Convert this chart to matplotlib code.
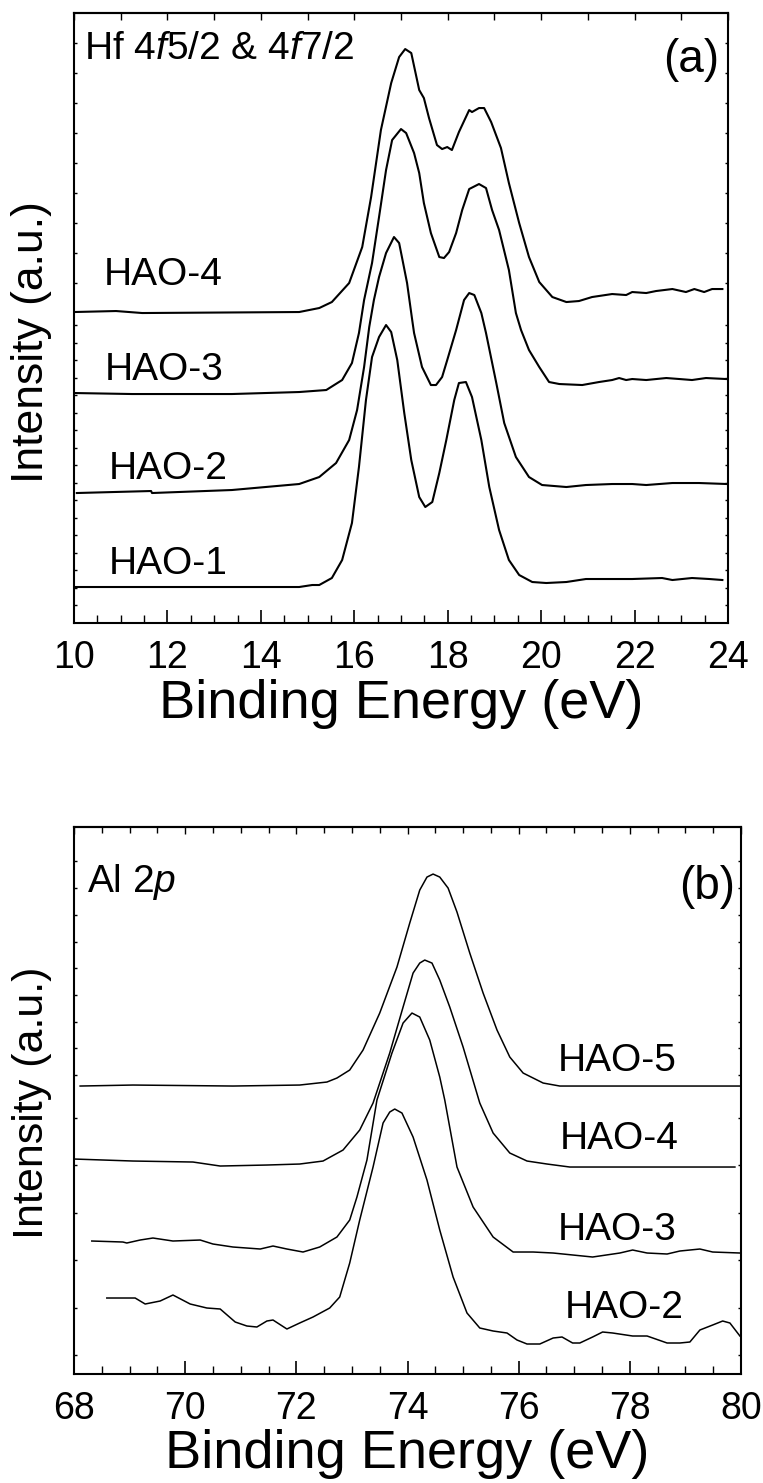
import numpy as np
import matplotlib
matplotlib.use("Agg")
import matplotlib.pyplot as plt
from matplotlib.ticker import MultipleLocator, FixedLocator, NullFormatter

plt.rcParams['font.family'] = ['Liberation Sans', 'DejaVu Sans']
plt.rcParams['mathtext.fontset'] = 'custom'
plt.rcParams['mathtext.rm'] = 'Liberation Sans'
plt.rcParams['mathtext.it'] = 'Liberation Sans:italic'

# ---- panel (a): Hf 4f, binding energy (eV) vs intensity (a.u., stacked)
a1_x = [10.00, 13.38, 14.82, 15.10, 15.25, 15.52, 15.74, 15.95, 16.10, 16.25, 16.38, 16.53, 16.68, 16.79,
        16.92, 17.07, 17.22, 17.39, 17.52, 17.67, 17.82, 17.97, 18.14, 18.24, 18.39, 18.52, 18.72, 18.89,
        19.10, 19.31, 19.53, 19.81, 20.11, 20.54, 20.96, 21.52, 21.95, 22.59, 22.81, 23.23, 23.60, 23.88]
a1_y = [3.6, 3.6, 3.6, 3.8, 3.8, 4.5, 6.3, 10.0, 15.6, 22.3, 26.6, 28.6, 29.8, 29.1,
        26.3, 21.0, 16.3, 12.6, 11.6, 12.1, 15.0, 18.3, 22.3, 24.0, 24.1, 22.6, 18.3, 13.6,
        9.3, 6.3, 4.8, 4.1, 4.0, 4.1, 4.4, 4.4, 4.4, 4.5, 4.3, 4.5, 4.4, 4.3]

a2_x = [10.06, 11.65, 11.67, 13.38, 14.82, 15.25, 15.61, 15.89, 16.06, 16.21, 16.32, 16.42, 16.53, 16.68,
        16.85, 16.96, 17.02, 17.13, 17.24, 17.28, 17.45, 17.64, 17.75, 17.88, 17.99, 18.18, 18.35, 18.46,
        18.57, 18.72, 18.82, 19.04, 19.21, 19.46, 19.74, 20.02, 20.54, 20.96, 21.52, 21.95, 22.25, 22.81,
        23.38, 23.98]
a2_y = [13.0, 13.2, 13.0, 13.3, 13.9, 14.6, 16.0, 18.3, 21.3, 25.6, 29.6, 32.3, 34.6, 37.0,
        38.6, 38.0, 36.6, 34.0, 30.3, 29.0, 25.6, 23.8, 23.8, 24.6, 26.3, 29.3, 32.3, 33.0,
        32.8, 31.0, 29.0, 24.0, 20.0, 16.6, 14.6, 13.8, 13.6, 13.8, 13.9, 13.9, 13.8, 14.0,
        14.0, 13.9]

a3_x = [10.00, 11.24, 13.38, 14.82, 15.40, 15.74, 15.95, 16.10, 16.21, 16.38, 16.53, 16.68, 16.81, 17.00,
        17.11, 17.28, 17.39, 17.49, 17.64, 17.82, 17.92, 18.03, 18.18, 18.31, 18.46, 18.67, 18.82, 18.95,
        19.10, 19.31, 19.46, 19.57, 19.74, 19.96, 20.17, 20.39, 20.88, 21.24, 21.52, 21.67, 21.82, 21.95,
        22.25, 22.68, 22.96, 23.23, 23.53, 23.96]
a3_y = [23.0, 22.9, 22.9, 23.1, 23.3, 24.3, 26.0, 29.0, 32.3, 36.0, 40.6, 45.3, 48.3, 49.4,
        49.0, 47.0, 45.0, 42.0, 39.0, 36.6, 36.5, 37.1, 39.0, 41.3, 43.4, 43.9, 43.5, 41.3,
        39.3, 35.3, 31.0, 29.3, 27.3, 25.6, 24.1, 23.9, 23.8, 24.1, 24.3, 24.5, 24.3, 24.4,
        24.3, 24.5, 24.4, 24.3, 24.5, 24.4]

a4_x = [10.00, 10.90, 11.46, 14.82, 15.25, 15.52, 15.89, 16.17, 16.36, 16.57, 16.79, 16.96, 17.09, 17.22,
        17.39, 17.49, 17.60, 17.77, 17.88, 17.99, 18.09, 18.24, 18.46, 18.52, 18.67, 18.78, 18.93, 19.14,
        19.31, 19.53, 19.74, 19.96, 20.24, 20.54, 20.81, 21.09, 21.52, 21.82, 21.95, 22.25, 22.46, 22.81,
        23.10, 23.28, 23.49, 23.66, 23.88]
a4_y = [31.1, 31.2, 31.0, 31.1, 31.5, 32.1, 34.0, 37.6, 42.6, 49.3, 54.0, 56.6, 57.4, 57.0,
        53.3, 52.5, 50.5, 47.8, 47.4, 47.6, 47.3, 49.1, 51.3, 51.1, 51.5, 51.5, 50.1, 47.5,
        44.0, 40.0, 36.6, 34.1, 32.6, 32.1, 32.2, 32.6, 32.9, 32.8, 33.1, 33.0, 33.2, 33.4,
        33.1, 33.4, 33.1, 33.4, 33.4]

a_labels = ["HAO-1", "HAO-2", "HAO-3", "HAO-4"]
a_label_x = [10.75, 10.75, 10.66, 10.64]
a_label_y = [5.9, 15.4, 25.3, 34.8]

# ---- panel (b): Al 2p
b2_x = [68.59, 69.10, 69.28, 69.55, 69.78, 70.09, 70.39, 70.63, 70.90, 71.11, 71.29, 71.47, 71.58, 71.83,
        72.06, 72.30, 72.60, 72.78, 72.96, 73.14, 73.38, 73.56, 73.68, 73.77, 73.90, 74.10, 74.35, 74.58,
        74.82, 75.07, 75.30, 75.54, 75.79, 75.97, 76.15, 76.38, 76.62, 76.78, 76.97, 77.10, 77.33, 77.51,
        77.69, 78.05, 78.31, 78.67, 78.90, 79.08, 79.26, 79.49, 79.67, 79.80, 79.98]
b2_y = [7.6, 7.6, 7.0, 7.3, 7.9, 7.0, 6.6, 6.5, 5.2, 4.8, 4.7, 5.3, 5.4, 4.5,
        5.1, 5.7, 6.6, 7.7, 11.1, 15.4, 20.7, 25.1, 26.2, 26.5, 26.1, 23.7, 19.4, 14.4,
        9.7, 6.1, 4.6, 4.3, 4.1, 3.4, 3.0, 3.0, 3.6, 3.7, 3.1, 3.1, 3.7, 4.2,
        4.1, 3.8, 3.8, 3.1, 3.1, 3.2, 4.4, 4.9, 5.3, 5.1, 3.8]

b3_x = [68.32, 68.88, 68.95, 69.19, 69.42, 69.78, 70.27, 70.50, 70.86, 71.35, 71.58, 71.83, 72.12, 72.42,
        72.73, 72.96, 73.09, 73.27, 73.45, 73.72, 73.92, 74.08, 74.22, 74.40, 74.58, 74.67, 74.89, 75.18,
        75.54, 75.90, 76.26, 76.62, 77.33, 77.82, 78.05, 78.31, 78.67, 78.90, 79.26, 79.49, 79.98]
b3_y = [13.3, 13.2, 13.1, 13.4, 13.6, 13.3, 13.4, 13.0, 12.7, 12.5, 12.8, 12.5, 12.2, 12.7,
        13.7, 15.4, 17.7, 21.4, 27.4, 32.1, 35.1, 36.1, 35.7, 33.4, 29.7, 27.4, 20.7, 16.7,
        13.7, 12.2, 12.2, 12.1, 11.7, 12.1, 12.4, 12.1, 12.0, 12.3, 12.5, 12.2, 12.1]

b4_x = [68.00, 69.06, 70.14, 70.63, 71.47, 72.06, 72.48, 72.84, 73.14, 73.38, 73.68, 73.92, 74.10, 74.22,
        74.31, 74.44, 74.58, 74.76, 75.00, 75.30, 75.54, 75.84, 76.15, 76.51, 76.92, 77.69, 78.90, 79.89]
b4_y = [21.5, 21.3, 21.2, 20.8, 20.9, 21.0, 21.3, 22.4, 24.4, 27.1, 32.1, 36.7, 40.1, 41.1,
        41.4, 41.1, 39.4, 36.7, 32.7, 27.1, 24.1, 22.1, 21.3, 21.0, 20.7, 20.7, 20.7, 20.7]

b5_x = [68.11, 69.06, 70.86, 72.06, 72.55, 72.73, 72.96, 73.20, 73.50, 73.81, 74.04, 74.22, 74.35, 74.46,
        74.58, 74.73, 74.89, 75.12, 75.36, 75.61, 75.84, 76.08, 76.44, 76.74, 77.69, 78.90, 79.98]
b5_y = [28.8, 28.9, 28.8, 28.9, 29.2, 29.6, 30.4, 32.4, 36.1, 40.7, 45.1, 48.4, 49.7, 50.0,
        49.7, 48.6, 46.2, 42.1, 38.1, 34.4, 31.7, 30.1, 29.1, 28.8, 28.8, 28.8, 28.8]

b_labels = ["HAO-2", "HAO-3", "HAO-4", "HAO-5"]
b_label_x = [76.83, 76.71, 76.74, 76.71]
b_label_y = [6.6, 14.4, 23.5, 31.3]


def style_axes(ax, xlim, ylim, top_step, top_minor, yticks):
    ax.set_xlim(*xlim)
    ax.set_ylim(*ylim)
    for s in ax.spines.values():
        s.set_linewidth(1.5)
    ax.xaxis.set_major_locator(MultipleLocator(2))
    ax.xaxis.set_minor_locator(MultipleLocator(0.5))
    ax.tick_params(axis='x', which='major', direction='in', length=9.5, width=1.2,
                   labelsize=27, pad=12, top=False)
    ax.tick_params(axis='x', which='minor', direction='in', length=5.5, width=1.0, top=False)
    ax.yaxis.set_major_locator(FixedLocator(yticks))
    ax.yaxis.set_major_formatter(NullFormatter())
    ax.tick_params(axis='y', which='major', direction='in', length=2.5, width=1.0,
                   left=True, right=True)
    # top axis ticks (no labels)
    sec = ax.secondary_xaxis('top')
    sec.xaxis.set_major_locator(MultipleLocator(top_step))
    sec.xaxis.set_major_formatter(NullFormatter())
    sec.tick_params(which='major', direction='in', length=5, width=1.0)
    if top_minor:
        sec.xaxis.set_minor_locator(MultipleLocator(top_minor))
        sec.tick_params(which='minor', direction='in', length=4, width=1.0)
    sec.spines['top'].set_linewidth(1.5)
    ax.set_xlabel("Binding Energy (eV)", fontsize=39)


fig = plt.figure(figsize=(7.63, 14.83), dpi=100)
ax1 = fig.add_axes([0.0970, 0.5799, 0.8571, 0.4113])
ax2 = fig.add_axes([0.0970, 0.0735, 0.8742, 0.3688])

# panel (a)
for xs, ys in [(a1_x, a1_y), (a2_x, a2_y), (a3_x, a3_y), (a4_x, a4_y)]:
    ax1.plot(xs, ys, color='black', lw=1.5)
for t, x, y in zip(a_labels, a_label_x, a_label_y):
    ax1.text(x, y, t, fontsize=28, ha='left', va='center')
ya = np.concatenate([np.arange(1.8, 31.5, 1.75), np.arange(34.0, 59.0, 3.0)])
style_axes(ax1, (10, 24), (0, 61), 1, None, ya)
ax1.text(10.21, 57.4, r"Hf 4$\mathit{f5/2}$ & 4$\mathit{f7/2}$", fontsize=28, ha='left', va='center')
ax1.text(23.81, 56.3, "(a)", fontsize=33, ha='right', va='center')
ax1.set_ylabel("Intensity (a.u.)", fontsize=32)
ax1.yaxis.set_label_coords(-0.034, 0.46)
ax1.xaxis.set_label_coords(0.5, -0.091)

# panel (b)
for xs, ys in [(b2_x, b2_y), (b3_x, b3_y), (b4_x, b4_y), (b5_x, b5_y)]:
    ax2.plot(xs, ys, color='black', lw=1.1)
for t, x, y in zip(b_labels, b_label_x, b_label_y):
    ax2.text(x, y, t, fontsize=28, ha='left', va='center')
yb = np.concatenate([np.arange(1.9, 28.0, 4.75), np.arange(29.9, 53.0, 2.67)])
style_axes(ax2, (68, 80), (0, 54.7), 2, 0.5, yb)
ax2.text(68.23, 49.2, r"Al 2$\mathit{p}$", fontsize=28, ha='left', va='center')
ax2.text(79.89, 48.7, "(b)", fontsize=33, ha='right', va='center')
ax2.set_ylabel("Intensity (a.u.)", fontsize=31)
ax2.yaxis.set_label_coords(-0.033, 0.495)
ax2.xaxis.set_label_coords(0.5, -0.100)

fig.savefig("out.png", dpi=100)
